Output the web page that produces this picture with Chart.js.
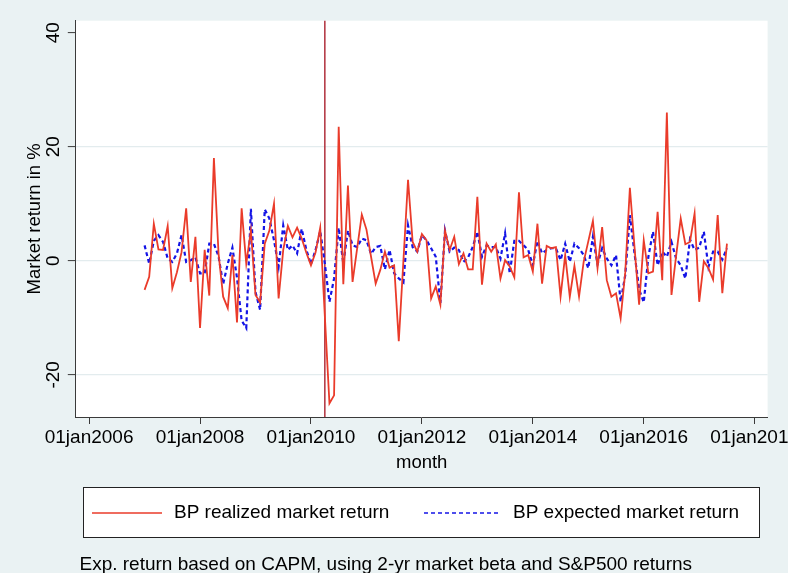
<!DOCTYPE html>
<html>
<head>
<meta charset="utf-8">
<script src="https://cdn.jsdelivr.net/npm/chart.js@4.4.1/dist/chart.umd.min.js"></script>
<style>
html, body { margin: 0; padding: 0; background: #EAF2F3; }
#wrap { width: 788px; height: 573px; position: relative; }
canvas { display: block; }
</style>
</head>
<body>
<div id="wrap"><canvas id="c" width="788" height="573"></canvas></div>
<script>
// ---------- data (monthly, Jan 2007 .. Jul 2017) ----------
const startYear = 2007;
const seriesLabels = ['BP realized market return', 'BP expected market return'];
const realized = [
  -5.1, -2.8, 6.5, 2.0, 1.9, 6.1, -4.8, -2.0, 1.5, 9.2, -3.7, 4.2,
  -11.8, 1.9, -6.1, 18.0, 1.3, -6.3, -8.3, 1.0, -10.8, 9.2, -0.5, 5.3,
  -6.0, -7.3, 3.0, 5.3, 10.0, -6.6, 1.9, 6.1, 4.1, 5.8, 3.9, 1.4,
  -0.8, 1.5, 5.8, -9.7, -25.0, -23.6, 23.5, -4.1, 13.2, -3.7, 2.2, 8.1,
  5.5, 0.7, -4.0, -1.6, 1.6, -1.2, -0.8, -14.1, 0.0, 14.2, 3.3, 1.6,
  4.7, 3.6, -6.6, -4.5, -7.7, 5.3, 1.9, 4.2, -0.6, 1.3, -1.5, -1.5,
  11.2, -4.2, 3.0, 1.6, 2.9, -3.1, 0.1, -1.0, -2.9, 12.0, 0.6, 1.0,
  -1.9, 6.5, -4.0, 2.6, 2.2, 2.4, -6.3, 1.0, -6.3, -0.9, -6.3, -0.2,
  3.4, 7.0, -1.3, 5.9, -3.4, -6.3, -5.7, -10.1, -2.0, 12.8, 2.4, -7.7,
  3.6, -2.2, -1.9, 8.6, -3.4, 26.0, -6.0, 0.8, 7.4, 2.9, 3.3, 8.3,
  -7.2, -0.1, -1.3, -3.3, 8.0, -5.7, 3.0
];
const expected = [
  2.7, -0.5, 3.5, 4.5, 3.3, 0.4, -0.2, 1.3, 4.5, -0.2, 0.1, 0.6,
  -2.2, -2.2, 3.0, 3.0, 0.8, -4.1, -0.5, 2.3, -3.0, -10.5, -11.8, 9.1,
  -5.5, -8.6, 9.0, 7.4, 3.6, -1.0, 6.2, 1.9, 2.7, 1.3, 5.6, 1.9,
  -0.6, 1.9, 5.2, -0.5, -7.2, -3.1, 5.8, -0.5, 5.3, 2.7, 2.4, 3.9,
  3.6, 1.2, 2.4, 2.6, -1.5, 1.9, -2.2, -3.1, -3.8, 6.2, 2.4, 1.6,
  4.5, 3.6, 2.2, 0.7, -7.4, 5.3, 1.6, 2.3, 1.9, -0.2, 0.6, 2.4,
  5.1, 0.7, 2.7, 2.4, 2.4, 0.4, 4.8, -2.2, 3.5, 3.5, 2.7, 1.9,
  -0.8, 3.5, 1.3, 1.9, 2.2, 2.2, 0.1, 3.0, -0.2, 3.0, 2.2, 1.0,
  -1.3, 4.2, -0.6, 2.2, 0.4, -0.8, 1.0, -7.2, -2.5, 8.0, 1.3, -5.0,
  -7.3, 0.7, 5.1, -0.8, 1.6, 0.7, 3.3, 0.4, -0.8, -3.1, 3.7, 1.9,
  2.3, 5.1, -1.1, 1.6, 1.6, 0.2, 2.2
];
const xTickYears = [2006, 2008, 2010, 2012, 2014, 2016, 2018];
const yTicks = [-20, 0, 20, 40];
const eventDate = 2010.25; // April 2010
const axisTitles = { x: 'month', y: 'Market return in %' };
const noteText = 'Exp. return based on CAPM, using 2-yr market beta and S&P500 returns';

// month positions (decimal years)
const monthX = realized.map((_, i) => startYear + i / 12);

// ---------- styling ----------
const BG = '#EAF2F3';
const RED = '#EA3B2A';
const BLUE = '#1414E6';
const EVENT = '#B0303C';
const AXIS = '#3a3a3a';
const GRID = '#E3ECEE';
const FONT = '"Liberation Sans", Arial, Helvetica, sans-serif';
Chart.defaults.font.family = FONT;
Chart.defaults.color = '#000';

const bgPlugin = {
  id: 'bg',
  beforeDraw(chart) {
    const { ctx, chartArea: a } = chart;
    ctx.save();
    ctx.fillStyle = BG;
    ctx.fillRect(0, 0, chart.width, chart.height);
    ctx.fillStyle = '#FFFFFF';
    ctx.fillRect(a.left, a.top, a.right - a.left, a.bottom - a.top);
    ctx.restore();
  }
};

const eventPlugin = {
  id: 'eventLine',
  beforeDatasetsDraw(chart) {
    const { ctx, chartArea: a, scales: { x } } = chart;
    const px = x.getPixelForValue(eventDate);
    ctx.save();
    ctx.strokeStyle = EVENT;
    ctx.lineWidth = 1.5;
    ctx.beginPath();
    ctx.moveTo(px, a.top);
    ctx.lineTo(px, a.bottom);
    ctx.stroke();
    ctx.restore();
  }
};

const yLabelPlugin = {
  id: 'yLabels',
  afterDraw(chart) {
    const { ctx, scales: { y } } = chart;
    ctx.save();
    ctx.fillStyle = '#000';
    ctx.font = '19px ' + FONT;
    ctx.textAlign = 'center';
    ctx.textBaseline = 'middle';
    yTicks.forEach(v => {
      const py = y.getPixelForValue(v);
      ctx.save();
      ctx.translate(53.5, py);
      ctx.rotate(-Math.PI / 2);
      ctx.fillText(String(v), 0, 0);
      ctx.restore();
    });
    ctx.restore();
  }
};

const legendPlugin = {
  id: 'stataLegend',
  afterDraw(chart) {
    const { ctx } = chart;
    const ds = chart.data.datasets;
    ctx.save();
    ctx.fillStyle = '#FFFFFF';
    ctx.fillRect(83.5, 487.5, 676, 50);
    ctx.strokeStyle = '#222';
    ctx.lineWidth = 1;
    ctx.strokeRect(83.5, 487.5, 676, 50);
    const yMid = 513;
    const items = [
      { x0: 92, x1: 162, tx: 174, d: ds[0] },
      { x0: 424, x1: 499, tx: 513, d: ds[1] }
    ];
    ctx.font = '19px ' + FONT;
    ctx.textBaseline = 'middle';
    ctx.textAlign = 'left';
    items.forEach(it => {
      ctx.save();
      ctx.strokeStyle = it.d.borderColor;
      ctx.lineWidth = 1.5;
      ctx.setLineDash(it.d.borderDash && it.d.borderDash.length ? [4, 3] : []);
      ctx.beginPath();
      ctx.moveTo(it.x0, yMid);
      ctx.lineTo(it.x1, yMid);
      ctx.stroke();
      ctx.restore();
      ctx.fillStyle = '#000';
      ctx.fillText(it.d.label, it.tx, yMid);
    });
    ctx.fillText(noteText, 79.5, 565);
    ctx.restore();
  }
};

new Chart(document.getElementById('c'), {
  type: 'line',
  data: {
    datasets: [
      {
        label: seriesLabels[0],
        data: realized.map((v, i) => ({ x: monthX[i], y: v })),
        borderColor: RED,
        borderWidth: 1.8,
        pointRadius: 0,
        tension: 0,
        fill: false
      },
      {
        label: seriesLabels[1],
        data: expected.map((v, i) => ({ x: monthX[i], y: v })),
        borderColor: BLUE,
        borderWidth: 2.2,
        borderDash: [4, 3],
        pointRadius: 0,
        tension: 0,
        fill: false
      }
    ]
  },
  options: {
    responsive: false,
    animation: false,
    devicePixelRatio: 1,
    layout: { padding: { top: 20.7, right: 20.4, bottom: 96, left: 0 } },
    plugins: {
      legend: { display: false },
      tooltip: { enabled: false }
    },
    scales: {
      x: {
        type: 'linear',
        min: 2005.76,
        max: 2018.233,
        afterBuildTicks: s => { s.ticks = xTickYears.map(v => ({ value: v })); },
        afterFit: s => { s.height = 60; s.paddingLeft = 0; s.paddingRight = 0; },
        ticks: {
          autoSkip: false,
          maxRotation: 0,
          minRotation: 0,
          padding: 2,
          font: { size: 19 },
          color: '#000',
          callback: v => '01jan' + v
        },
        grid: { drawOnChartArea: false, drawTicks: true, tickLength: 7, tickColor: AXIS, tickWidth: 1 },
        border: { color: AXIS, width: 1 },
        title: { display: true, text: axisTitles.x, font: { size: 18.5 }, color: '#000', padding: { top: 0, bottom: 3 } }
      },
      y: {
        type: 'linear',
        min: -27.4,
        max: 42.1,
        afterBuildTicks: s => { s.ticks = yTicks.map(v => ({ value: v })); },
        afterFit: s => { s.width = 75.8; s.paddingTop = 0; s.paddingBottom = 0; },
        ticks: { display: false },
        grid: {
          color: c => (c.tick && c.tick.value === 40) ? 'rgba(0,0,0,0)' : GRID,
          lineWidth: 1.2,
          drawTicks: true,
          tickLength: 8,
          tickColor: AXIS,
          tickWidth: 1
        },
        border: { color: AXIS, width: 1 },
        title: { display: true, text: axisTitles.y, font: { size: 18.5 }, color: '#000', padding: { top: 24, bottom: 0 } }
      }
    }
  },
  plugins: [bgPlugin, eventPlugin, yLabelPlugin, legendPlugin]
});
</script>
</body>
</html>
